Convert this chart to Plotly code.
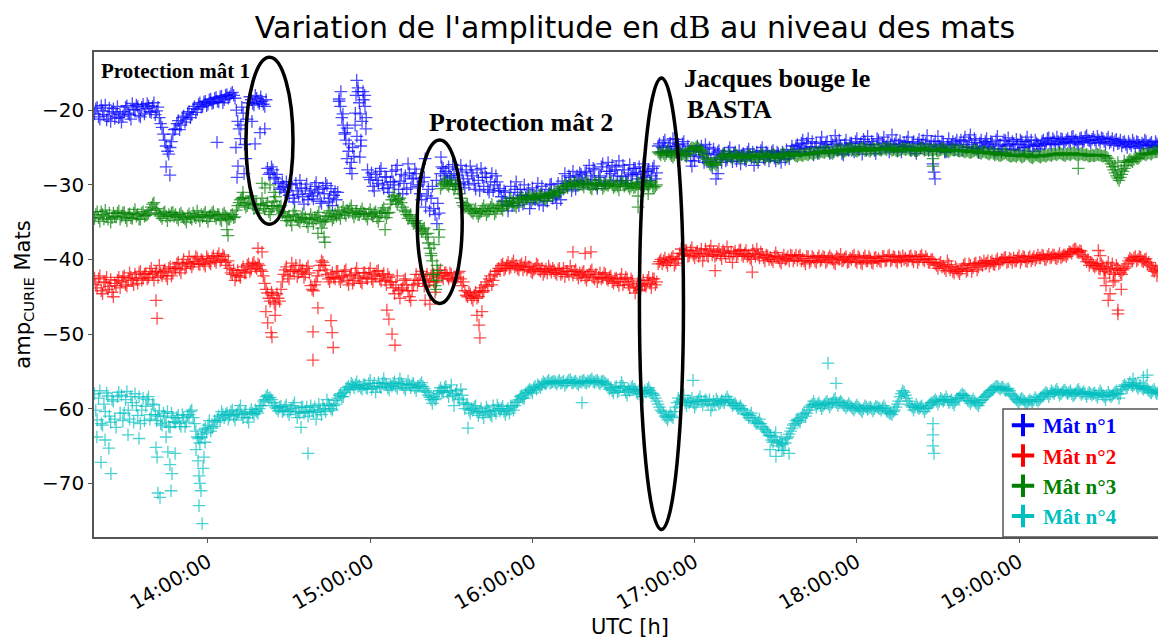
import plotly.graph_objects as go
from datetime import datetime, timedelta

DAY = "2016-01-01"
START = datetime(2016, 1, 1, 13, 18)   # first sample; main samples every minute,
HALF = timedelta(seconds=30)            # second samples 30 s later

# ---------------- data (dB) ----------------
mat1 = [
    -20.5,-19.6,-21.2,-20.1,-19.3,-20.8,-21.5,-19.8,-20.4,-21.0,
    -21.6,-20.2,-19.4,-20.6,-19.1,-20.0,-19.5,-20.9,-19.2,-19.8,
    -19.4,-20.3,-19.0,-20.1,-21.0,-22.3,-24.0,-25.5,-25.0,-23.2,
    -22.5,-21.4,-22.0,-20.8,-21.2,-20.2,-20.6,-19.5,-19.9,-19.0,
    -19.5,-18.8,-19.2,-18.5,-19.0,-18.3,-18.9,-18.1,-18.6,-17.9,
    -18.2,-17.6,-18.4,-21.5,-23.8,-20.4,-26.5,-19.0,-18.6,-19.3,
    -18.4,-19.1,-18.8,-19.5,-27.8,-28.4,-28.0,-29.2,-29.8,-30.4,
    -30.2,-29.6,-31.4,-30.0,-32.3,-30.8,-29.4,-31.6,-30.5,-32.0,
    -30.8,-31.9,-29.7,-30.6,-32.5,-31.2,-30.1,-31.8,-32.8,-30.9,
    -31.0,-19.5,-22.0,-24.0,-25.5,-27.0,-26.2,-16.0,-19.0,-21.5,
    -18.0,-28.0,-29.3,-30.2,-28.6,-29.8,-27.8,-30.5,-29.0,-31.0,
    -28.2,-30.0,-27.4,-29.5,-31.2,-28.8,-27.2,-30.4,-29.1,-28.5,
    -30.0,-32.0,-29.0,-31.5,-33.5,-30.2,-34.0,-32.5,-28.5,-27.8,
    -28.2,-27.6,-29.0,-28.5,-27.9,-29.8,-28.3,-30.4,-29.2,-27.5,
    -28.8,-30.6,-29.4,-27.8,-30.2,-29.0,-31.0,-28.5,-30.0,-29.6,
    -30.5,-32.2,-31.0,-33.5,-30.2,-31.8,-29.6,-32.8,-31.4,-30.0,
    -31.5,-33.2,-30.4,-32.0,-29.8,-31.6,-32.8,-30.6,-31.2,-29.9,
    -30.8,-32.5,-31.0,-29.5,-28.5,-30.2,-29.0,-28.2,-30.6,-29.4,
    -28.6,-29.8,-28.2,-27.4,-29.3,-28.0,-30.5,-28.8,-27.2,-29.6,
    -27.0,-28.5,-29.4,-27.6,-26.8,-28.9,-28.0,-29.8,-27.3,-28.6,
    -27.8,-29.2,-28.4,-27.2,-29.0,-28.0,-28.8,-27.5,-28.4,-24.5,
    -25.0,-24.0,-25.4,-24.4,-23.8,-25.2,-24.6,-25.8,-24.2,-26.0,
    -25.5,-27.5,-26.8,-24.8,-25.6,-26.4,-24.6,-25.8,-26.8,-25.2,
    -26.4,-25.4,-27.0,-25.8,-26.6,-25.0,-26.9,-25.6,-26.2,-27.2,
    -25.8,-26.8,-25.2,-26.4,-27.4,-25.6,-26.2,-25.0,-26.6,-25.9,
    -26.2,-25.4,-26.8,-25.8,-27.0,-26.0,-25.3,-26.5,-24.8,-25.6,
    -24.6,-25.6,-24.0,-25.2,-23.8,-24.9,-26.0,-24.4,-25.5,-23.6,
    -25.0,-24.2,-25.8,-24.6,-23.4,-25.3,-24.8,-26.0,-24.0,-25.4,
    -24.4,-25.6,-23.8,-24.9,-25.9,-24.2,-23.5,-25.1,-24.6,-25.8,
    -24.0,-25.2,-23.6,-24.8,-25.6,-23.3,-24.5,-25.4,-24.1,-24.9,
    -24.8,-23.6,-25.4,-24.2,-25.8,-23.9,-24.6,-25.2,-23.4,-24.9,
    -25.5,-24.1,-23.5,-25.0,-24.4,-25.6,-23.8,-24.7,-25.3,-24.0,
    -24.6,-25.4,-23.6,-24.9,-23.3,-25.1,-24.3,-25.7,-24.0,-24.8,
    -23.8,-25.0,-24.4,-25.6,-23.5,-24.6,-25.2,-24.1,-23.7,-25.3,
    -24.5,-23.9,-25.4,-24.2,-25.0,-23.6,-24.8,-25.5,-24.0,-24.6,
    -24.8,-24.0,-24.4,-23.7,-24.6,-24.1,-23.6,-24.5,-23.9,-24.3,
    -23.8,-24.4,-23.5,-24.0,-24.6,-23.7,-24.2,-23.4,-24.1,-23.9,
    -24.0,-23.5,-24.3,-23.8,-24.5,-23.6,-24.2,-24.7,-23.9,-24.4,
    -24.8,-24.2,-25.0,-24.5,-24.0,-24.9,-24.3,-25.1,-24.6,-24.2,
    -24.7,-24.3,-25.0,-24.5,-24.1,-24.8,-24.4,
]
mat1_half = [
    -19.8,-20.9,-19.4,-20.6,-21.3,-19.7,-20.2,-21.1,-19.5,-20.6,
    -20.8,-19.6,-20.4,-21.2,-19.9,-19.3,-20.7,-19.6,-20.5,-19.1,
    -20.2,-19.5,-20.6,-19.6,-21.8,-23.2,-24.8,-25.9,-24.2,-22.6,
    -21.8,-22.6,-21.0,-21.6,-20.4,-21.0,-19.8,-20.3,-19.2,-19.6,
    -18.9,-19.4,-18.6,-19.1,-18.4,-18.8,-18.2,-19.0,-18.0,-18.4,
    -17.8,-18.0,-20.0,-22.5,-19.6,-24.6,-21.2,-18.2,-19.1,-18.0,
    -18.9,-18.2,-19.2,-18.6,-28.6,-27.6,-29.0,-28.6,-30.6,-29.6,
    -31.0,-30.8,-29.9,-31.8,-29.8,-31.3,-30.4,-32.6,-29.9,-31.2,
    -31.5,-30.2,-31.0,-32.2,-30.4,-29.8,-32.3,-30.5,-31.4,-32.0,
    -18.8,-21.0,-23.2,-22.4,-27.8,-25.0,-20.4,-17.0,-24.8,-18.6,
    -21.0,-29.0,-28.4,-30.8,-29.4,-28.2,-30.0,-28.9,-30.4,-29.6,
    -29.6,-28.0,-30.6,-28.6,-29.8,-30.6,-28.4,-29.2,-27.9,-30.2,
    -31.2,-29.6,-33.0,-30.6,-31.8,-33.2,-29.4,-33.8,-27.6,-28.8,
    -29.2,-28.8,-27.3,-29.9,-28.7,-27.4,-29.6,-28.0,-30.0,-28.4,
    -29.8,-28.0,-30.8,-29.0,-28.4,-30.6,-29.6,-30.8,-28.8,-30.8,
    -31.6,-30.8,-32.6,-31.8,-32.8,-30.6,-31.0,-30.6,-32.6,-31.6,
    -30.6,-32.4,-31.8,-30.8,-32.6,-30.2,-31.4,-32.2,-30.0,-31.8,
    -31.6,-29.8,-32.0,-30.6,-29.8,-28.8,-30.8,-29.6,-28.8,-28.4,
    -29.6,-28.4,-29.9,-28.8,-27.8,-30.0,-29.0,-27.6,-29.8,-28.2,
    -28.2,-27.4,-28.0,-28.8,-29.6,-27.4,-29.4,-28.4,-28.8,-27.8,
    -28.6,-27.6,-29.6,-28.2,-28.2,-29.4,-27.8,-29.2,-24.8,-25.6,
    -24.3,-25.6,-24.8,-25.6,-24.9,-23.9,-25.4,-24.5,-25.6,-24.8,
    -26.8,-26.0,-25.4,-26.2,-24.8,-27.0,-25.9,-25.0,-27.6,-26.0,
    -25.6,-26.6,-25.9,-26.8,-25.5,-26.3,-25.8,-26.8,-25.4,-26.0,
    -26.6,-25.6,-26.0,-25.6,-26.2,-27.0,-25.4,-26.4,-25.6,-26.8,
    -25.6,-26.4,-25.6,-26.4,-25.6,-26.6,-26.0,-25.6,-25.6,-24.8,
    -25.2,-24.4,-25.0,-24.4,-25.6,-24.2,-25.0,-25.8,-24.4,-25.0,
    -24.6,-25.4,-24.2,-25.6,-24.4,-24.0,-25.8,-24.6,-25.2,-24.4,
    -25.2,-24.2,-25.2,-24.4,-23.9,-25.4,-24.6,-24.2,-25.4,-23.8,
    -25.0,-24.4,-25.0,-24.2,-24.6,-25.0,-24.0,-24.6,-25.6,-24.3,
    -24.2,-25.0,-24.4,-25.4,-24.4,-25.0,-24.0,-24.4,-25.4,-24.2,
    -24.6,-25.2,-24.8,-24.2,-25.6,-24.6,-25.0,-24.2,-24.4,-25.4,
    -24.0,-24.2,-25.0,-24.0,-24.6,-23.8,-25.2,-24.4,-25.0,-24.2,
    -24.6,-24.2,-25.2,-24.0,-24.8,-25.6,-24.0,-24.8,-24.6,-24.2,
    -25.2,-24.6,-24.0,-25.0,-24.2,-24.6,-24.0,-24.8,-24.4,-25.2,
    -24.2,-24.6,-23.8,-24.4,-23.8,-24.6,-24.2,-23.8,-24.4,-24.0,
    -24.2,-23.6,-24.2,-24.4,-23.8,-24.3,-23.6,-24.0,-24.4,-23.6,
    -24.4,-24.0,-23.7,-24.2,-23.9,-24.4,-23.8,-24.1,-24.5,-24.0,
    -24.3,-24.6,-24.2,-24.8,-24.4,-24.2,-24.7,-24.4,-24.0,-24.8,
    -24.5,-24.8,-24.2,-24.7,-24.3,-24.6,
]
mat1_extra_t = ["13:44:30","13:45:55","14:03:20","14:10:20","14:10:45","14:11:05","14:12:10",
                "14:13:20","14:16:15","14:17:25","14:19:15","14:21:00",
                "14:48:30","14:49:10","14:49:55","14:50:40","14:51:25","14:52:10","14:53:15",
                "14:54:25","14:54:45","14:55:05","14:55:30","14:56:10","14:56:15","14:56:35",
                "14:57:20","14:58:05","14:58:25",
                "15:20:20","15:24:40","15:26:10","17:07:55","17:08:40",
                "18:28:10","18:28:35","18:28:55"]
mat1_extra_v = [-27.6,-28.7,-24.3,-25.0,-29.0,-27.5,-22.0,
                -28.5,-21.5,-24.5,-23.0,-22.5,
                -18.5,-17.5,-20.5,-23.0,-26.5,-24.5,-28.5,
                -22.0,-18.0,-23.5,-17.5,-26.3,-20.5,-24.0,
                -17.5,-19.5,-22.5,
                -26.5,-35.2,-26.3,-29.2,-28.5,
                -27.2,-28.3,-29.2]

mat2 = [
    -42.5,-43.8,-42.2,-44.6,-43.1,-44.0,-42.7,-45.0,-43.5,-42.4,
    -43.0,-42.2,-43.6,-41.8,-42.8,-42.0,-43.2,-41.6,-42.5,-41.9,
    -42.4,-41.2,-42.8,-41.6,-40.8,-42.2,-41.4,-42.6,-41.0,-41.7,
    -41.2,-40.4,-41.8,-40.0,-40.9,-39.6,-41.0,-40.3,-39.8,-40.7,
    -40.2,-40.9,-39.9,-40.6,-39.5,-40.4,-39.2,-40.0,-39.6,-40.8,
    -41.2,-42.0,-42.8,-41.5,-42.4,-41.0,-41.8,-40.6,-41.3,-40.4,
    -41.2,-40.8,-41.6,-43.2,-44.5,-45.6,-44.8,-46.0,-45.2,-44.0,
    -42.0,-41.0,-42.6,-40.5,-41.6,-42.3,-40.8,-41.4,-42.0,-40.9,
    -43.5,-44.2,-43.0,-41.5,-40.2,-40.8,-42.0,-43.0,-41.8,-42.6,
    -41.6,-43.0,-42.2,-41.4,-43.4,-42.0,-42.8,-41.2,-42.5,-43.2,
    -41.8,-42.6,-41.2,-43.0,-42.2,-41.5,-42.9,-41.9,-43.4,-42.4,
    -43.0,-44.6,-42.2,-45.2,-43.8,-42.6,-44.2,-45.5,-43.4,-42.0,
    -42.8,-41.6,-43.6,-42.0,-43.0,-41.8,-44.4,-42.4,-41.4,-42.6,
    -41.8,-42.6,-42.0,-43.0,-42.4,-41.6,-43.5,-44.2,-45.0,-44.6,
    -45.5,-44.4,-45.0,-43.8,-44.2,-43.0,-42.6,-43.4,-42.0,-41.6,
    -41.5,-40.6,-41.2,-40.4,-41.0,-40.2,-40.8,-41.4,-40.6,-41.0,
    -41.4,-41.0,-41.8,-41.2,-40.8,-41.6,-42.0,-41.3,-40.9,-41.7,
    -41.5,-42.0,-41.2,-41.8,-42.3,-41.6,-40.9,-42.1,-41.4,-42.5,
    -42.2,-41.6,-42.8,-42.0,-41.4,-42.6,-43.0,-41.8,-42.4,-42.0,
    -42.8,-42.2,-43.2,-42.5,-43.5,-42.0,-43.0,-42.6,-43.8,-42.9,
    -44.5,-43.2,-44.0,-42.8,-43.6,-42.4,-43.8,-42.6,-43.0,-40.3,
    -40.6,-39.8,-40.8,-40.2,-39.6,-40.5,-39.9,-38.6,-39.4,-38.8,
    -39.5,-38.4,-39.8,-38.9,-39.2,-40.2,-38.6,-39.6,-38.2,-39.0,
    -39.4,-38.6,-39.9,-39.1,-38.3,-39.6,-40.4,-38.9,-39.3,-38.7,
    -39.6,-38.8,-39.4,-40.0,-39.2,-38.6,-39.8,-39.3,-40.2,-39.5,
    -39.7,-40.3,-39.1,-39.8,-40.5,-39.4,-39.9,-40.2,-39.5,-39.8,
    -40.1,-39.4,-39.9,-40.6,-39.6,-40.2,-39.8,-40.4,-39.5,-40.0,
    -39.7,-40.2,-39.5,-40.0,-40.6,-39.8,-39.3,-40.1,-39.6,-40.3,
    -40.0,-39.4,-40.4,-39.8,-40.6,-39.5,-40.2,-39.9,-40.5,-39.7,
    -39.9,-40.3,-39.6,-40.1,-39.4,-40.0,-39.7,-40.4,-39.8,-39.5,
    -39.8,-40.1,-39.5,-40.3,-39.7,-40.0,-39.4,-40.2,-39.9,-40.4,
    -40.0,-40.6,-41.2,-40.4,-40.9,-41.5,-40.7,-41.0,-41.8,-41.3,
    -41.9,-41.2,-40.6,-41.4,-40.8,-41.1,-40.5,-41.0,-40.6,-40.2,
    -40.5,-40.9,-40.2,-40.7,-39.9,-40.4,-40.1,-39.7,-40.3,-40.0,
    -39.8,-40.2,-39.5,-40.0,-39.7,-40.3,-39.6,-39.9,-40.1,-39.4,
    -39.8,-39.5,-40.0,-39.3,-39.7,-39.4,-39.9,-39.2,-39.6,-39.4,
    -39.3,-39.0,-38.8,-38.6,-39.1,-38.9,-39.6,-40.3,-40.8,-40.5,
    -41.0,-40.6,-41.3,-40.9,-41.6,-40.4,-41.2,-42.0,-40.8,-41.5,
    -42.0,-41.2,-40.6,-39.8,-40.2,-39.6,-40.0,-39.7,-40.3,-39.9,
    -40.4,-41.0,-41.6,-42.2,-41.4,-40.8,-41.9,
]
mat2_half = [
    -43.4,-42.6,-44.2,-43.0,-42.4,-43.6,-44.4,-43.2,-42.8,-43.8,
    -42.4,-43.4,-42.6,-42.4,-43.4,-42.6,-41.8,-42.8,-42.0,-42.6,
    -41.6,-42.0,-41.8,-42.4,-41.8,-41.6,-42.2,-41.2,-42.2,-41.2,
    -40.6,-41.4,-40.6,-41.2,-40.4,-40.6,-40.6,-39.6,-40.6,-40.0,
    -40.6,-39.6,-40.4,-39.8,-40.2,-39.6,-40.2,-39.4,-40.4,-40.2,
    -41.8,-41.4,-42.2,-42.2,-41.4,-41.8,-40.8,-41.6,-40.6,-41.0,
    -40.6,-41.4,-42.2,-44.0,-45.2,-44.4,-45.8,-44.6,-45.6,-43.0,
    -41.4,-42.2,-41.6,-41.4,-40.8,-41.8,-41.6,-42.4,-41.2,-41.8,
    -44.0,-43.4,-42.2,-40.8,-40.4,-41.4,-42.6,-42.4,-42.4,-41.6,
    -42.6,-42.4,-41.6,-42.8,-42.2,-43.2,-41.8,-42.2,-43.0,-41.8,
    -42.4,-41.8,-42.6,-42.0,-41.6,-42.6,-42.2,-42.8,-42.0,-43.0,
    -43.8,-43.4,-44.2,-44.0,-42.8,-43.4,-45.0,-44.2,-42.8,-43.2,
    -42.0,-42.8,-42.6,-43.4,-42.2,-43.0,-43.0,-41.8,-42.2,-41.8,
    -42.2,-41.8,-42.8,-42.6,-41.8,-42.6,-43.0,-44.8,-44.4,-45.2,
    -44.8,-45.2,-44.2,-44.4,-43.4,-43.6,-42.2,-42.8,-41.6,-41.2,
    -40.8,-41.4,-40.8,-41.2,-40.6,-41.0,-41.2,-40.8,-41.4,-40.4,
    -41.0,-41.6,-41.4,-40.6,-41.4,-41.2,-41.6,-41.8,-41.4,-41.2,
    -41.8,-41.4,-42.0,-41.2,-41.6,-42.0,-41.6,-41.6,-42.0,-41.8,
    -41.8,-42.4,-42.2,-41.6,-42.4,-42.0,-42.4,-42.6,-41.8,-42.6,
    -42.4,-43.0,-42.6,-43.0,-42.6,-43.4,-42.4,-43.4,-42.6,-43.6,
    -43.8,-44.2,-43.4,-43.4,-42.8,-43.2,-42.6,-43.4,-40.6,-40.0,
    -40.2,-40.4,-40.0,-39.8,-40.8,-40.0,-39.2,-39.2,-38.8,-39.6,
    -38.8,-39.4,-39.2,-39.6,-38.6,-39.4,-39.2,-38.8,-39.4,-39.6,
    -39.0,-39.4,-38.8,-39.6,-39.2,-39.0,-39.2,-39.6,-38.8,-39.4,
    -39.2,-39.6,-39.8,-38.8,-39.6,-39.4,-39.0,-39.8,-39.4,-40.0,
    -40.0,-39.6,-39.6,-40.2,-39.8,-40.0,-39.6,-39.4,-40.2,-39.4,
    -39.6,-40.2,-40.2,-39.6,-40.4,-39.6,-40.2,-39.8,-40.2,-39.6,
    -40.4,-39.8,-39.8,-40.4,-39.6,-40.0,-40.2,-39.8,-40.4,-39.8,
    -39.6,-40.2,-39.6,-40.4,-39.8,-40.2,-39.6,-40.4,-39.8,-40.2,
    -40.2,-39.6,-40.2,-39.6,-40.2,-39.6,-40.2,-39.6,-40.2,-40.0,
    -40.2,-39.6,-40.0,-39.6,-40.4,-39.6,-40.0,-39.6,-40.4,-40.0,
    -40.4,-40.8,-40.6,-41.0,-41.2,-40.2,-41.4,-41.6,-41.0,-41.6,
    -41.4,-40.8,-41.6,-40.6,-41.6,-40.6,-41.4,-40.4,-40.8,-40.6,
    -40.2,-40.4,-40.6,-40.2,-40.6,-40.0,-39.8,-40.4,-39.8,-40.4,
    -40.2,-39.8,-40.4,-39.6,-40.2,-39.8,-40.2,-39.6,-39.8,-39.8,
    -39.4,-40.0,-39.6,-39.8,-39.4,-39.8,-39.6,-39.8,-39.4,-39.6,
    -39.0,-39.2,-38.6,-39.0,-38.8,-39.4,-39.8,-40.0,-40.4,-40.8,
    -40.8,-41.2,-40.6,-41.4,-41.0,-41.8,-40.6,-41.4,-41.2,-41.8,
    -41.4,-41.0,-40.2,-40.0,-39.8,-40.2,-39.6,-40.2,-40.0,-40.6,
    -40.8,-41.4,-41.2,-41.8,-41.0,-41.6,
]
mat2_extra_t = ["13:40:45","13:41:10","14:18:30","14:20:00","14:21:25","14:22:05","14:23:20",
                "14:23:40","14:24:50","14:38:50","14:38:50","14:40:40","14:45:30","14:45:55",
                "14:46:20","15:06:10","15:06:55","15:08:05","15:09:10","15:20:20","15:22:05",
                "15:39:30","15:40:15","15:40:35","15:41:20","16:15:00","16:19:30","16:21:40",
                "17:07:35","17:21:20",
                "19:29:20","19:30:00","19:31:30","19:32:10","19:33:00","19:33:40","19:34:50",
                "19:35:30","19:36:35","19:36:35","19:37:50"]
mat2_extra_v = [-45.5,-47.9,-38.5,-39.0,-47.0,-48.5,-49.8,
                -50.4,-47.5,-49.7,-53.5,-46.5,-48.2,-49.8,
                -51.8,-46.8,-48.0,-50.0,-51.5,-45.5,-46.0,
                -47.5,-48.8,-50.5,-47.0,-39.0,-39.2,-39.0,
                -41.5,-41.7,
                -38.8,-39.5,-42.5,-43.5,-45.5,-44.6,-43.0,
                -42.8,-46.8,-47.3,-44.0]

mat3 = [
    -34.5,-33.6,-34.9,-34.0,-33.4,-34.6,-35.0,-33.8,-34.3,-33.5,
    -34.2,-33.7,-34.8,-33.9,-34.5,-33.3,-34.0,-34.6,-33.6,-34.1,
    -33.8,-33.0,-32.4,-33.2,-34.0,-34.5,-33.6,-34.8,-34.2,-33.7,
    -34.0,-34.7,-33.8,-34.4,-35.0,-33.9,-34.6,-34.2,-33.5,-34.8,
    -34.3,-33.7,-34.9,-34.1,-33.6,-34.5,-34.0,-34.8,-33.8,-34.4,
    -34.6,-34.0,-34.3,-32.8,-32.0,-31.7,-33.0,-32.4,-31.5,-33.2,
    -32.6,-33.8,-31.8,-33.2,-32.4,-34.0,-32.9,-31.6,-33.4,-32.8,
    -33.6,-34.8,-34.2,-35.4,-33.5,-34.6,-35.0,-33.9,-34.4,-35.6,
    -34.0,-35.2,-34.6,-33.7,-35.8,-34.9,-34.2,-33.5,-34.7,-33.9,
    -33.4,-34.5,-33.0,-34.1,-33.7,-32.8,-34.3,-33.5,-34.0,-33.2,
    -33.9,-34.6,-33.3,-34.2,-33.6,-34.9,-33.8,-33.1,-34.4,-33.7,
    -32.0,-31.4,-32.6,-31.8,-33.0,-33.6,-34.5,-34.0,-35.2,-34.8,
    -35.5,-36.2,-35.8,-37.0,-38.5,-40.2,-43.5,-41.5,-30.5,-29.8,
    -29.6,-30.2,-29.4,-30.6,-29.9,-31.2,-32.4,-33.0,-32.6,-33.4,
    -33.8,-33.2,-34.2,-33.6,-32.8,-34.0,-33.5,-32.6,-33.9,-33.1,
    -32.8,-33.4,-32.2,-32.9,-31.8,-32.5,-33.0,-32.0,-31.6,-32.3,
    -31.9,-31.3,-32.0,-31.5,-31.8,-31.2,-31.7,-32.1,-31.4,-31.0,
    -31.3,-30.8,-31.1,-30.5,-30.0,-30.4,-29.8,-30.2,-29.6,-30.1,
    -29.8,-30.3,-29.5,-30.0,-30.6,-29.7,-30.2,-29.4,-30.5,-29.9,
    -30.1,-29.6,-30.4,-29.9,-30.7,-29.5,-30.2,-29.8,-30.5,-30.0,
    -30.3,-29.7,-30.0,-30.6,-29.8,-30.2,-29.6,-30.4,-30.0,-25.8,
    -25.6,-26.1,-25.4,-25.9,-26.3,-25.7,-25.5,-26.0,-25.8,-26.2,
    -25.4,-25.0,-25.2,-24.9,-25.3,-25.6,-26.4,-26.9,-27.4,-27.0,
    -27.4,-26.6,-26.2,-25.9,-26.3,-26.0,-26.5,-25.8,-26.2,-26.4,
    -26.1,-26.5,-25.9,-26.3,-26.0,-26.6,-26.2,-25.8,-26.4,-26.1,
    -26.3,-25.9,-26.2,-26.5,-26.0,-25.8,-26.3,-26.1,-25.7,-26.0,
    -26.2,-25.9,-26.1,-25.8,-26.0,-25.7,-25.9,-25.6,-25.8,-25.5,
    -25.7,-25.4,-25.6,-25.8,-25.3,-25.5,-25.2,-25.6,-25.4,-25.1,
    -25.4,-25.2,-25.5,-25.3,-25.0,-25.4,-25.2,-25.5,-25.1,-25.3,
    -25.2,-25.4,-25.1,-25.3,-25.0,-25.4,-25.2,-25.5,-25.3,-25.1,
    -25.3,-25.1,-25.4,-25.2,-25.5,-25.3,-25.0,-25.4,-25.2,-25.3,
    -25.4,-25.2,-25.5,-25.3,-25.1,-25.4,-25.6,-25.2,-25.4,-25.3,
    -25.5,-25.3,-25.6,-25.4,-25.7,-25.5,-25.3,-25.6,-25.8,-25.5,
    -25.7,-25.9,-25.6,-26.0,-25.8,-26.1,-25.9,-25.7,-26.0,-26.2,
    -26.0,-26.2,-25.9,-26.3,-26.1,-25.8,-26.2,-26.4,-26.0,-26.1,
    -26.3,-26.0,-26.2,-25.9,-26.1,-25.8,-26.0,-25.7,-25.9,-26.1,
    -25.8,-26.0,-25.7,-25.9,-26.1,-25.8,-26.0,-25.9,-26.2,-26.0,
    -26.1,-25.9,-26.0,-26.2,-26.1,-26.5,-27.2,-28.0,-28.8,-29.4,
    -28.6,-27.8,-27.0,-26.6,-26.9,-26.3,-26.5,-26.1,-25.8,-26.0,
    -25.7,-25.9,-25.5,-25.6,-25.3,-25.5,-25.4,
]
mat3_half = [
    -34.0,-34.4,-33.6,-34.6,-34.2,-33.8,-34.4,-34.2,-33.8,-34.6,
    -33.8,-34.4,-34.0,-34.4,-33.8,-34.2,-34.6,-33.8,-34.2,-34.0,
    -33.4,-32.6,-33.4,-33.8,-34.2,-33.8,-34.2,-34.0,-33.8,-34.2,
    -34.4,-34.0,-34.2,-34.6,-34.2,-34.4,-33.8,-34.4,-34.2,-34.0,
    -34.0,-34.4,-34.2,-33.8,-34.2,-34.0,-34.6,-34.0,-34.2,-34.6,
    -34.2,-34.4,-33.4,-32.4,-31.8,-32.6,-32.8,-31.8,-32.6,-32.6,
    -33.4,-32.6,-32.8,-32.8,-33.6,-33.2,-32.2,-32.8,-33.0,-33.8,
    -34.2,-34.4,-34.8,-34.0,-34.2,-34.8,-34.4,-34.6,-35.0,-34.6,
    -34.6,-34.4,-34.2,-34.8,-35.0,-34.6,-33.8,-34.2,-34.4,-34.2,
    -34.0,-33.6,-33.8,-33.4,-33.2,-33.8,-33.8,-34.0,-33.6,-33.8,
    -34.2,-33.8,-34.0,-33.8,-34.4,-34.2,-33.4,-33.8,-33.8,-32.6,
    -31.6,-32.2,-32.0,-32.4,-33.4,-34.0,-34.2,-34.8,-35.0,-35.2,
    -35.8,-36.0,-36.6,-37.8,-39.2,-42.0,-42.8,-36.0,-30.0,-29.6,
    -30.0,-29.8,-30.0,-30.2,-30.6,-31.8,-32.8,-32.8,-33.2,-33.6,
    -33.4,-33.8,-33.8,-33.2,-33.4,-33.6,-33.0,-33.2,-33.6,-32.8,
    -33.2,-32.8,-32.6,-32.4,-32.2,-32.8,-32.4,-31.8,-32.0,-31.8,
    -31.6,-31.8,-31.6,-31.8,-31.4,-31.6,-31.8,-31.6,-31.2,-31.4,
    -31.0,-31.0,-30.8,-30.2,-30.2,-30.0,-30.0,-29.8,-30.0,-30.0,
    -30.0,-29.8,-29.8,-30.4,-30.0,-29.9,-29.8,-30.0,-30.2,-30.0,
    -29.8,-30.0,-30.2,-30.2,-30.0,-29.8,-30.0,-30.2,-30.2,-30.4,
    -30.0,-29.8,-30.4,-30.2,-30.0,-29.9,-30.2,-30.2,-25.6,-26.0,
    -25.8,-25.8,-25.6,-26.1,-26.0,-25.6,-25.8,-25.9,-26.0,-25.8,
    -25.2,-25.1,-25.0,-25.1,-25.4,-26.0,-26.6,-27.2,-27.2,-27.2,
    -27.0,-26.4,-26.0,-26.1,-26.1,-26.2,-26.2,-26.0,-26.3,-26.3,
    -26.3,-26.2,-26.1,-26.2,-26.3,-26.4,-26.0,-26.1,-26.2,-26.2,
    -26.1,-26.0,-26.4,-26.2,-25.9,-26.0,-26.2,-25.9,-25.8,-26.1,
    -26.0,-26.0,-25.9,-25.9,-25.8,-25.8,-25.7,-25.7,-25.6,-25.6,
    -25.5,-25.5,-25.7,-25.5,-25.4,-25.3,-25.4,-25.5,-25.2,-25.2,
    -25.3,-25.4,-25.4,-25.1,-25.2,-25.3,-25.4,-25.3,-25.2,-25.2,
    -25.3,-25.2,-25.2,-25.1,-25.2,-25.3,-25.4,-25.4,-25.2,-25.2,
    -25.2,-25.3,-25.3,-25.4,-25.4,-25.1,-25.2,-25.3,-25.3,-25.3,
    -25.3,-25.4,-25.4,-25.2,-25.3,-25.5,-25.4,-25.3,-25.3,-25.4,
    -25.4,-25.5,-25.5,-25.6,-25.6,-25.4,-25.5,-25.7,-25.6,-25.6,
    -25.8,-25.7,-25.8,-25.9,-26.0,-26.0,-25.8,-25.9,-26.1,-26.1,
    -26.1,-26.0,-26.1,-26.2,-25.9,-26.0,-26.3,-26.2,-26.0,-26.2,
    -26.1,-26.1,-26.0,-26.0,-25.9,-25.9,-25.8,-25.8,-26.0,-25.9,
    -25.9,-25.8,-25.8,-26.0,-25.9,-25.9,-26.0,-26.1,-26.1,-26.1,
    -26.0,-26.0,-26.1,-26.1,-26.3,-26.8,-27.6,-28.4,-29.1,-29.0,
    -28.2,-27.4,-26.8,-26.8,-26.6,-26.4,-26.3,-25.9,-25.9,-25.8,
    -25.8,-25.7,-25.6,-25.4,-25.4,-25.5,
]
mat3_extra_t = ["14:07:00","14:07:25","14:12:55","14:20:00","14:21:05","14:22:55","14:24:25",
                "14:40:40","14:42:55","14:43:15","15:05:30",
                "15:21:25","15:22:30","15:23:15","15:23:35","15:24:20","15:24:40","15:25:25",
                "16:39:05","16:39:05","16:42:50","18:28:10","18:28:10","19:21:55",
                "19:35:30","19:36:35","19:37:50","19:38:55"]
mat3_extra_v = [-36.0,-36.8,-31.0,-29.8,-30.4,-30.0,-31.0,
                -36.5,-37.0,-37.7,-36.0,
                -36.5,-39.5,-42.0,-38.0,-44.0,-40.8,-37.0,
                -31.5,-33.0,-31.2,-26.5,-27.5,-27.8,
                -27.5,-27.0,-28.0,-26.8]

mat4 = [
    -58.0,-61.5,-57.6,-62.2,-60.4,-58.3,-61.8,-59.0,-62.5,-57.8,
    -58.2,-60.6,-57.7,-61.4,-59.2,-58.0,-60.9,-62.0,-58.6,-59.7,
    -58.4,-60.8,-59.5,-61.6,-60.3,-62.2,-61.0,-60.4,-62.5,-61.2,
    -61.8,-60.9,-62.4,-61.2,-61.8,-60.8,-60.2,-62.0,-63.8,-64.6,
    -63.4,-62.6,-62.2,-63.0,-62.4,-61.8,-61.0,-60.4,-61.2,-60.6,
    -60.9,-60.2,-61.5,-60.6,-59.6,-61.2,-60.4,-61.8,-60.1,-60.8,
    -60.4,-60.0,-59.6,-58.8,-58.2,-58.5,-59.2,-59.8,-60.3,-59.7,
    -60.2,-59.5,-60.8,-60.0,-59.2,-61.2,-60.6,-59.8,-60.4,-61.0,
    -59.6,-60.5,-61.4,-59.4,-60.8,-60.0,-58.8,-59.6,-60.2,-58.9,
    -58.6,-58.0,-58.4,-57.5,-57.0,-56.6,-57.2,-56.4,-56.9,-57.4,
    -56.8,-57.3,-56.2,-57.0,-57.8,-56.5,-57.2,-56.0,-56.8,-57.5,
    -57.0,-56.4,-57.3,-56.0,-56.8,-57.5,-56.3,-57.2,-56.6,-57.6,
    -57.0,-56.5,-57.3,-57.8,-58.5,-59.3,-58.8,-58.0,-57.2,-57.8,
    -57.0,-58.4,-56.8,-59.6,-57.6,-58.8,-58.2,-60.0,-59.4,-60.6,
    -60.2,-59.6,-60.9,-60.0,-61.2,-59.8,-60.4,-61.0,-60.2,-59.5,
    -60.3,-59.7,-60.8,-60.0,-59.6,-60.2,-59.2,-58.8,-58.2,-58.6,
    -57.8,-57.4,-57.9,-57.0,-56.8,-57.2,-56.4,-56.7,-56.2,-56.5,
    -56.3,-56.7,-56.2,-56.5,-56.9,-56.4,-56.1,-56.6,-56.3,-56.8,
    -56.5,-56.2,-56.6,-56.4,-56.0,-56.5,-56.2,-56.7,-56.3,-56.6,
    -56.8,-57.2,-57.9,-57.0,-57.6,-56.5,-57.3,-58.2,-57.6,-57.0,
    -57.4,-58.0,-57.6,-58.4,-57.8,-57.2,-57.9,-58.2,-59.0,-59.8,
    -60.4,-61.0,-61.5,-60.8,-61.2,-59.8,-58.6,-59.4,-58.2,-59.6,
    -59.2,-58.6,-59.8,-59.0,-58.4,-59.5,-58.8,-59.3,-60.2,-59.0,
    -58.7,-59.4,-58.9,-59.2,-58.4,-59.0,-59.6,-59.3,-60.0,-59.6,
    -60.2,-60.8,-61.2,-60.6,-61.6,-62.0,-61.4,-62.4,-62.8,-63.2,
    -63.6,-64.5,-63.2,-65.0,-64.2,-65.6,-64.0,-63.4,-62.6,-62.0,
    -61.4,-61.8,-60.8,-61.0,-60.2,-59.6,-59.0,-59.8,-59.2,-60.0,
    -59.4,-59.0,-59.8,-59.2,-58.6,-59.6,-59.0,-59.5,-59.9,-59.3,
    -59.8,-60.2,-59.5,-60.0,-60.4,-59.6,-60.1,-59.8,-60.3,-59.7,
    -59.9,-60.2,-59.6,-60.3,-60.6,-60.8,-60.2,-59.4,-58.4,-57.6,
    -58.2,-59.0,-59.6,-60.2,-59.4,-60.0,-59.6,-60.4,-59.8,-59.4,
    -59.2,-58.8,-59.4,-58.6,-59.0,-58.4,-59.2,-58.8,-59.5,-58.7,
    -58.5,-58.0,-58.3,-58.9,-59.3,-58.7,-59.2,-59.6,-58.9,-58.5,
    -58.2,-57.8,-57.5,-57.2,-57.0,-57.4,-57.1,-57.6,-57.3,-58.0,
    -58.4,-58.8,-59.2,-58.6,-59.0,-59.4,-58.8,-59.1,-58.5,-59.0,
    -58.6,-58.2,-57.8,-58.4,-57.6,-58.0,-57.4,-58.2,-57.8,-57.5,
    -58.0,-57.6,-58.3,-57.9,-57.4,-58.1,-57.7,-58.4,-57.8,-58.2,
    -57.9,-58.5,-57.6,-58.2,-58.8,-57.8,-58.4,-58.0,-57.6,-58.6,
    -57.4,-56.8,-57.2,-56.5,-57.0,-56.6,-57.3,-56.9,-57.4,-57.0,
    -57.6,-57.9,-57.4,-58.0,-57.7,-58.2,-57.9,
]
mat4_half = [
    -60.2,-58.6,-62.0,-59.4,-57.9,-61.0,-58.8,-61.4,-58.4,-60.6,
    -61.6,-58.8,-60.2,-58.4,-61.8,-59.6,-58.4,-60.2,-61.6,-58.8,
    -61.4,-59.4,-60.8,-61.0,-62.0,-60.6,-61.8,-62.4,-60.6,-61.8,
    -61.2,-62.0,-60.8,-62.4,-61.0,-60.4,-61.2,-63.0,-64.0,-63.8,
    -62.8,-63.2,-61.6,-62.6,-61.6,-61.4,-61.6,-60.8,-60.8,-61.4,
    -60.4,-61.0,-60.8,-60.2,-60.8,-60.6,-61.2,-60.6,-60.6,-60.2,
    -60.6,-59.6,-59.0,-58.4,-58.6,-58.8,-59.6,-60.0,-59.8,-60.4,
    -59.8,-60.4,-60.2,-59.6,-60.4,-60.4,-59.8,-60.6,-59.8,-60.4,
    -60.2,-59.8,-60.4,-60.2,-59.6,-60.4,-59.4,-60.0,-59.6,-59.4,
    -58.2,-58.4,-57.8,-57.2,-57.4,-56.8,-56.8,-57.0,-57.2,-56.8,
    -57.2,-56.6,-57.4,-56.6,-57.0,-57.0,-56.6,-56.6,-57.2,-56.8,
    -56.6,-57.0,-56.6,-56.6,-57.2,-56.8,-56.8,-56.8,-57.2,-57.0,
    -56.8,-57.0,-57.6,-58.2,-58.8,-58.4,-58.6,-57.6,-57.6,-57.2,
    -57.8,-57.6,-58.2,-58.0,-58.6,-57.4,-59.2,-59.4,-60.2,-60.0,
    -59.8,-60.4,-60.4,-60.6,-60.4,-60.2,-60.8,-59.6,-60.6,-60.0,
    -60.0,-60.4,-60.2,-60.6,-59.8,-59.6,-59.0,-58.4,-58.6,-58.0,
    -57.6,-57.6,-57.2,-57.4,-57.0,-56.8,-56.6,-56.4,-56.6,-56.4,
    -56.5,-56.4,-56.6,-56.3,-56.6,-56.2,-56.5,-56.4,-56.6,-56.4,
    -56.3,-56.5,-56.3,-56.2,-56.4,-56.3,-56.5,-56.4,-56.4,-56.8,
    -57.4,-57.6,-57.2,-57.8,-57.0,-57.0,-57.8,-57.4,-57.2,-57.4,
    -57.8,-57.6,-58.0,-57.6,-57.4,-57.6,-58.0,-58.6,-59.4,-60.2,
    -60.6,-61.2,-61.0,-61.0,-60.4,-59.2,-59.0,-58.8,-59.2,-59.0,
    -59.0,-59.2,-59.4,-58.8,-59.0,-59.0,-59.0,-58.8,-59.6,-59.4,
    -59.0,-59.2,-59.0,-58.8,-58.8,-59.2,-59.4,-59.6,-59.8,-60.0,
    -60.6,-60.8,-60.9,-61.2,-61.8,-61.8,-62.0,-62.6,-63.0,-63.6,
    -64.2,-63.8,-64.4,-64.6,-64.8,-64.6,-63.8,-63.0,-62.2,-61.6,
    -61.6,-61.2,-60.6,-60.6,-59.8,-59.4,-59.4,-59.4,-59.6,-59.6,
    -59.2,-59.4,-59.4,-58.8,-59.2,-59.2,-59.2,-59.6,-59.6,-59.6,
    -60.0,-59.8,-59.8,-60.2,-60.0,-59.8,-59.9,-60.0,-60.0,-59.8,
    -60.0,-59.9,-60.0,-60.4,-60.6,-60.4,-59.8,-59.0,-58.0,-57.8,
    -58.6,-59.4,-59.8,-59.8,-59.8,-59.8,-60.0,-60.0,-59.6,-59.2,
    -59.0,-59.0,-59.0,-58.8,-58.8,-58.8,-59.0,-59.2,-59.0,-58.6,
    -58.2,-58.2,-58.6,-59.0,-59.0,-59.0,-59.4,-59.2,-58.8,-58.4,
    -58.0,-57.6,-57.4,-57.0,-57.2,-57.2,-57.4,-57.4,-57.6,-58.2,
    -58.6,-59.0,-58.8,-58.8,-59.2,-59.0,-59.0,-58.8,-58.8,-58.8,
    -58.4,-58.0,-58.0,-58.0,-57.8,-57.6,-57.8,-58.0,-57.6,-57.8,
    -57.8,-58.0,-58.1,-57.6,-57.8,-57.9,-58.0,-58.0,-58.0,-58.0,
    -58.2,-58.0,-57.9,-58.4,-58.2,-58.2,-58.2,-57.8,-58.0,-58.0,
    -57.0,-57.0,-56.8,-56.8,-56.8,-57.0,-57.0,-57.2,-57.2,-57.4,
    -57.8,-57.6,-57.8,-57.8,-58.0,-58.0,
]
mat4_extra_t = ["13:18:55","13:20:25","13:21:55","13:23:20","13:24:05","13:30:25","13:34:30",
                "13:40:45","13:41:10","13:41:30","13:42:15","13:44:30","13:45:10","13:45:55",
                "13:46:40","13:46:20","13:47:50",
                "13:55:35","13:56:20","13:56:40","13:57:00","13:57:25","13:56:40","13:57:50",
                "13:58:10","13:58:30","13:58:55",
                "14:34:25","14:37:00","15:36:10","16:18:20","16:59:25",
                "17:27:55","17:30:05","17:32:20","17:34:55","17:49:20","17:52:20",
                "18:28:10","18:28:10","18:28:10","18:28:35",
                "19:42:10","19:46:00","19:47:25"]
mat4_extra_v = [-63.8,-67.2,-64.2,-65.3,-68.7,-63.5,-64.0,
                -65.2,-66.5,-71.3,-71.9,-63.8,-65.8,-67.5,
                -68.7,-71.0,-66.0,
                -65.5,-67.0,-69.0,-70.0,-71.0,-73.0,-75.4,
                -68.0,-66.5,-64.5,
                -62.5,-66.0,-62.6,-59.2,-56.2,
                -65.5,-66.4,-65.6,-66.0,-53.9,-56.6,
                -62.0,-63.5,-65.0,-66.0,
                -56.0,-55.8,-55.5]

names = ["Mât n°1", "Mât n°2", "Mât n°3", "Mât n°4"]
colors = ["#0000ff", "#ff0000", "#008000", "#00bfbf"]

series = [
    (mat1, mat1_half, mat1_extra_t, mat1_extra_v),
    (mat2, mat2_half, mat2_extra_t, mat2_extra_v),
    (mat3, mat3_half, mat3_extra_t, mat3_extra_v),
    (mat4, mat4_half, mat4_extra_t, mat4_extra_v),
]

def grid_times(vals, offset=timedelta(0)):
    return [(START + offset + timedelta(minutes=i)).strftime("%Y-%m-%d %H:%M:%S")
            for i in range(len(vals))]

def clock(ts):
    return [f"{DAY} {t}" for t in ts]

fig = go.Figure()

for (vals, half, et, ev), name, col in zip(series, names, colors):
    fig.add_trace(go.Scatter(
        x=grid_times(vals) + grid_times(half, HALF) + clock(et),
        y=vals + half + ev,
        mode="markers",
        marker=dict(symbol="cross-thin", size=9, color=col,
                    line=dict(width=1.3, color=col), opacity=0.7),
        showlegend=False, hoverinfo="skip",
    ))

# legend entries (large "+" symbols, coloured bold labels)
for name, col in zip(names, colors):
    fig.add_trace(go.Scatter(
        x=[None], y=[None], mode="markers",
        marker=dict(symbol="cross-thin", size=16, color=col, line=dict(width=4, color=col)),
        name=f"<b><span style='color:{col}'>{name}</span></b>",
        showlegend=True,
    ))

ellipses = [
    (("14:14:03", "14:31:27"), (-35.3, -12.9)),
    (("15:17:23", "15:34:02"), (-45.9, -24.0)),
    (("16:39:35", "16:55:53"), (-76.2, -15.7)),
]
for (t0, t1), (y0, y1) in ellipses:
    fig.add_shape(type="circle", xref="x", yref="y",
                  x0=f"{DAY} {t0}", x1=f"{DAY} {t1}", y0=y0, y1=y1,
                  line=dict(color="black", width=3.5), fillcolor="rgba(0,0,0,0)")

notes = [
    ("Protection mât 1", "13:19:40", -14.8, 21),
    ("Protection mât 2", "15:21:00", -21.6, 26),
    ("Jacques bouge le", "16:55:18", -15.8, 26),
    ("BASTA", "16:56:25", -19.9, 26),
]
for txt, t, y, sz in notes:
    fig.add_annotation(x=f"{DAY} {t}", y=y, xref="x", yref="y", text=f"<b>{txt}</b>",
                       showarrow=False, xanchor="left", yanchor="middle",
                       font=dict(family="Liberation Serif", size=sz, color="black"))

# the page body has an 8px default margin: the figure is sized so that its
# drawing lands on the 1166x639 window like the reference
W, H, OFF = 1158, 631, 8
PLOT_W, PLOT_H = W - (94 - OFF), 537 - 52
axis_col = "#555555"
legend_x0 = (1003 - 94) / PLOT_W

# legend frame: white box whose right side runs past the picture edge
fig.add_shape(type="rect", xref="paper", yref="paper", layer="above",
              x0=legend_x0, x1=1.2, y0=0, y1=(537 - 409) / PLOT_H,
              fillcolor="white", line=dict(color=axis_col, width=1.5))

fig.update_layout(
    width=W, height=H,
    margin=dict(l=94 - OFF, r=0, t=52 - OFF, b=102, autoexpand=False),
    paper_bgcolor="white", plot_bgcolor="white",
    title=dict(
        text="Variation de l'amplitude en <span style=\"font-family:'DejaVu Serif'\">dB</span> au niveau des mats",
        xref="container", x=(635 - OFF) / W, xanchor="center",
        yref="container", y=1 - (27 - OFF) / H, yanchor="middle",
        font=dict(family="DejaVu Sans", size=30, color="black"),
    ),
    xaxis=dict(
        type="date",
        range=[f"{DAY} 13:17:50", f"{DAY} 19:54:22"],
        tick0=f"{DAY} 14:00:00", dtick=3600000, tickformat="%H:%M:%S",
        tickangle=-30,
        tickfont=dict(family="DejaVu Sans", size=20, color="black"),
        showgrid=False, zeroline=False,
        showline=True, linecolor=axis_col, linewidth=1.5, mirror=True,
        ticks="outside", ticklen=4, tickcolor=axis_col, tickwidth=1.2,
        title=dict(text="UTC [h]", font=dict(family="DejaVu Sans", size=21, color="black"), standoff=4),
    ),
    yaxis=dict(
        range=[-77.2, -12.2], tick0=0, dtick=10,
        tickfont=dict(family="DejaVu Sans", size=20, color="black"),
        showgrid=False, zeroline=False,
        showline=True, linecolor=axis_col, linewidth=1.5, mirror=False,
        ticks="outside", ticklen=4, tickcolor=axis_col, tickwidth=1.2,
        title=dict(text="amp<sub>CURIE</sub> Mats", font=dict(family="DejaVu Sans", size=21, color="black"), standoff=6),
    ),
    legend=dict(
        x=legend_x0, xanchor="left", y=0, yanchor="bottom",
        bgcolor="rgba(0,0,0,0)", borderwidth=0,
        font=dict(family="Liberation Serif", size=21),
        itemsizing="trace",
    ),
)

fig.write_html("out.html")
